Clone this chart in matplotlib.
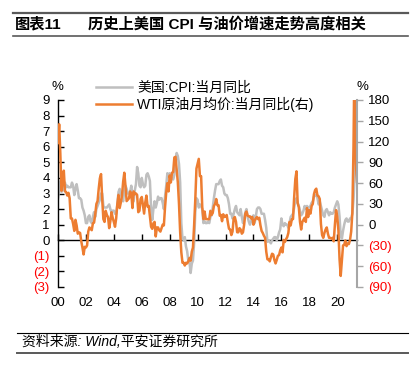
import numpy as np
import matplotlib
matplotlib.use("Agg")
import matplotlib.pyplot as plt
from matplotlib.lines import Line2D

plt.rcParams['font.family'] = ['Liberation Sans', 'Noto Sans CJK SC']
plt.rcParams['axes.unicode_minus'] = False

# 美国 CPI 当月同比 (%), 2000-01 ~ 2021-06
cpi = [
    2.7, 3.2, 3.8, 3.1, 3.2, 3.7, 3.7, 3.4, 3.5, 3.4, 3.4, 3.4,
    3.7, 3.5, 2.9, 3.3, 3.6, 3.2, 2.7, 2.7, 2.6, 2.1, 1.9, 1.6,
    1.1, 1.1, 1.5, 1.6, 1.2, 1.1, 1.5, 1.8, 1.5, 2.0, 2.2, 2.4,
    2.6, 3.0, 3.0, 2.2, 2.1, 2.1, 2.1, 2.2, 2.3, 2.0, 1.8, 1.9,
    1.9, 1.7, 1.7, 2.3, 3.1, 3.3, 3.0, 2.7, 2.5, 3.2, 3.5, 3.3,
    3.0, 3.0, 3.1, 3.5, 2.8, 2.5, 3.2, 3.6, 4.7, 4.3, 3.5, 3.4,
    4.0, 3.6, 3.4, 3.5, 4.2, 4.3, 4.1, 3.8, 2.1, 1.3, 2.0, 2.5,
    2.1, 2.4, 2.8, 2.6, 2.7, 2.7, 2.4, 2.0, 2.8, 3.5, 4.3, 4.1,
    4.3, 4.0, 4.0, 3.9, 4.2, 5.0, 5.6, 5.4, 4.9, 3.7, 1.1, 0.1,
    0.0, 0.2, -0.4, -0.7, -1.3, -1.4, -2.1, -1.5, -1.3, -0.2, 1.8, 2.7,
    2.6, 2.1, 2.3, 2.2, 2.0, 1.1, 1.2, 1.1, 1.1, 1.2, 1.1, 1.5,
    1.6, 2.1, 2.7, 3.2, 3.6, 3.6, 3.6, 3.8, 3.9, 3.5, 3.4, 3.0,
    2.9, 2.9, 2.7, 2.3, 1.7, 1.7, 1.4, 1.7, 2.0, 2.2, 1.8, 1.7,
    1.6, 2.0, 1.5, 1.1, 1.4, 1.8, 2.0, 1.5, 1.2, 1.0, 1.2, 1.5,
    1.6, 1.1, 1.5, 2.0, 2.1, 2.1, 2.0, 1.7, 1.7, 1.7, 1.3, 0.8,
    -0.1, 0.0, -0.1, -0.2, 0.0, 0.1, 0.2, 0.2, 0.0, 0.2, 0.5, 0.7,
    1.4, 1.0, 0.9, 1.1, 1.0, 1.0, 0.8, 1.1, 1.5, 1.6, 1.7, 2.1,
    2.5, 2.7, 2.4, 2.2, 1.9, 1.6, 1.7, 1.9, 2.2, 2.0, 2.2, 2.1,
    2.1, 2.2, 2.4, 2.5, 2.8, 2.9, 2.9, 2.7, 2.3, 2.5, 2.2, 1.9,
    1.6, 1.5, 1.9, 2.0, 1.8, 1.6, 1.8, 1.7, 1.7, 1.8, 2.1, 2.3,
    2.5, 2.3, 1.5, 0.3, 0.1, 0.6, 1.0, 1.3, 1.4, 1.2, 1.2, 1.4,
    1.4, 1.7, 2.6, 4.2, 5.0, 5.4,
]

# WTI 原油月均价 当月同比 (%), 2000-01 ~ 2021-06
wti = [
    118, 145, 103, 49, 62, 78, 48, 47, 42, 46, 38, 9,
    9, 1, -9, 7, -1, -13, -11, -12, -24, -33, -43, -32,
    -33, -30, -10, -4, -6, -8, 2, 3, 15, 30, 34, 52,
    67, 73, 37, 8, 4, 20, 14, 11, -5, 5, 18, 10,
    4, -3, 9, 30, 43, 24, 32, 42, 62, 75, 56, 34,
    36, 38, 48, 44, 24, 48, 44, 45, 43, 18, 20, 37,
    40, 28, 16, 32, 42, 26, 27, 12, -3, -6, 2, 4,
    -17, -4, -4, -8, -10, -5, 0, -1, 25, 46, 60, 48,
    71, 61, 75, 76, 97, 98, 80, 61, 30, -11, -40, -55,
    -55, -59, -55, -56, -53, -48, -52, -39, -33, -1, 36, 81,
    88, 95, 70, 70, 25, 8, 19, 8, 8, 8, 8, 20,
    14, 17, 27, 30, 37, 28, 28, 13, 14, 5, 15, 11,
    12, 14, 3, -6, -7, -15, -10, 9, 11, 4, -11, -11,
    -5, -7, -13, -11, 0, 16, 19, 13, 12, 12, 9, 11,
    0, 6, 9, 11, 8, 10, -1, -9, -12, -16, -19, -39,
    -50, -50, -53, -47, -42, -43, -51, -56, -51, -45, -44, -37,
    -33, -40, -22, -25, -21, -18, -12, 4, -1, 8, 8, 40,
    66, 77, 31, 25, 4, -7, 4, 7, 10, 4, 24, 11,
    21, 16, 27, 30, 44, 50, 52, 42, 41, 37, 1, -15,
    -19, -12, -7, -4, -13, -19, -19, -20, -19, -24, 0, 21,
    12, -8, -50, -74, -53, -30, -29, -23, -31, -27, -28, -22,
    -10, 17, 113, 272, 88, 62,
]

start_year = 2000
year_ticks = list(range(2000, 2021, 2))
year_labels = ['%02d' % (y % 100) for y in year_ticks]
left_ticks = list(range(-3, 10))
right_ticks = list(range(-90, 181, 30))

def fmt(v):
    return '(%d)' % abs(v) if v < 0 else '%d' % v

x = start_year + np.arange(len(cpi)) / 12.0

W, H = 412, 369
fig = plt.figure(figsize=(W / 100, H / 100), dpi=100)
ax = fig.add_axes([58 / W, 1 - 287 / H, 299 / W, 187 / H])
ax2 = ax.twinx()

gray = '#BFBFBF'
orange = '#ED7D31'

l1, = ax.plot(x, cpi, color=gray, lw=1.8, label='美国:CPI:当月同比')
l2, = ax2.plot(x, wti, color=orange, lw=1.8, label='WTI原油月均价:当月同比(右)')

ax.set_xlim(x[0], x[-1])
ax.set_ylim(-3, 9)
ax2.set_ylim(-90, 180)

# left axis
ax.set_yticks(left_ticks)
ax.set_yticklabels([fmt(v) for v in left_ticks], fontsize=9.5)
for lab, v in zip(ax.get_yticklabels(), left_ticks):
    lab.set_color('red' if v < 0 else 'black')
ax.tick_params(axis='y', direction='in', length=4, width=1, pad=6)
ax.spines['top'].set_visible(False)
ax.spines['right'].set_visible(False)
ax.spines['bottom'].set_visible(False)
ax.spines['left'].set_linewidth(1)

# x labels at the bottom, tick marks on the zero line
ax.set_xticks(year_ticks)
ax.set_xticklabels(year_labels, fontsize=9.5)
ax.tick_params(axis='x', length=0, pad=7)
sec = ax.secondary_xaxis(3 / 12)
sec.set_xticks(year_ticks)
sec.tick_params(axis='x', direction='in', length=4, width=1, labelbottom=False)
sec.spines['bottom'].set_linewidth(1)

# right axis
ax2.set_yticks(right_ticks)
ax2.set_yticklabels([fmt(v) for v in right_ticks], fontsize=9.5)
for lab, v in zip(ax2.get_yticklabels(), right_ticks):
    lab.set_color('red' if v < 0 else 'black')
ax2.tick_params(axis='y', direction='out', length=4, width=1, color='#A6A6A6', pad=4)
for s in ['top', 'left', 'bottom']:
    ax2.spines[s].set_visible(False)
ax2.spines['right'].set_color('#A6A6A6')
ax2.spines['right'].set_linewidth(1.5)

fig.text(57 / W, 1 - 87 / H, '%', fontsize=9.5, ha='center', va='center')
fig.text(362 / W, 1 - 87 / H, '%', fontsize=9.5, ha='center', va='center')

fig.legend(handles=[l1, l2], loc='upper left', bbox_to_anchor=(90 / W, 1 - 75 / H),
           frameon=False, fontsize=10, handlelength=2.6, handletextpad=0.4,
           labelspacing=0.15, borderaxespad=0)

# title
fig.text(15 / W, 1 - 24 / H, '图表11', fontsize=11, fontweight='bold', va='center')
fig.text(88 / W, 1 - 24 / H, '历史上美国 CPI 与油价增速走势高度相关', fontsize=11,
         fontweight='bold', va='center')
fig.add_artist(Line2D([13 / W, 408 / W], [1 - 13 / H] * 2, color='#595959', lw=1.6))
fig.add_artist(Line2D([13 / W, 408 / W], [1 - 35.5 / H] * 2, color='#595959', lw=1.2))

# source
fig.add_artist(Line2D([17 / W, 408 / W], [1 - 332.5 / H] * 2, color='black', lw=0.8))
fig.text(22 / W, 1 - 342 / H, '资料来源: Wind,平安证券研究所', fontsize=10,
         style='italic', va='center')
fig.add_artist(Line2D([17 / W, 408 / W], [1 - 352.5 / H] * 2, color='#595959', lw=1.4))

fig.savefig('out.png', dpi=100)
